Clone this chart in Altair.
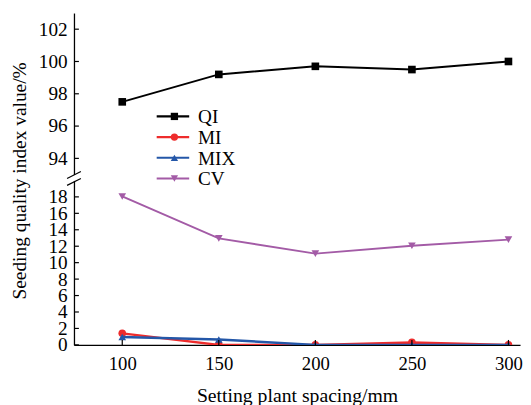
import altair as alt
import pandas as pd

spacing = [100, 150, 200, 250, 300]
qi = [97.5, 99.2, 99.7, 99.5, 100.0]
mi = [1.4, 0.0, 0.0, 0.3, 0.0]
mix = [0.95, 0.65, 0.0, 0.0, 0.0]
cv = [18.05, 12.95, 11.1, 12.05, 12.8]

series = ["QI", "MI", "MIX", "CV"]
colors = ["#000000", "#ee2c2c", "#2457a8", "#a35ba6"]
shapes = ["square", "circle", "triangle-up", "triangle-down"]

upper_ticks = [94, 96, 98, 100, 102]
lower_ticks = [0, 2, 4, 6, 8, 10, 12, 14, 16, 18]
x_ticks = [100, 150, 200, 250, 300]

FONT = "Liberation Serif"
W = 453
H_UP = 164
H_LO = 167

color_scale = alt.Scale(domain=series, range=colors)
shape_scale = alt.Scale(domain=series, range=shapes)

rows = []
for name, vals in zip(series, [qi, mi, mix, cv]):
    for s, v in zip(spacing, vals):
        rows.append({"spacing": s, "value": v, "series": name})
df = pd.DataFrame(rows)

xscale = alt.Scale(domain=[75, 306], nice=False, zero=False)
up_scale = alt.Scale(domain=[93, 103], nice=False, zero=False)
lo_scale = alt.Scale(domain=[0, 20], nice=False, zero=False)

up_axis = alt.Axis(values=upper_ticks, ticks=False, labelPadding=7, grid=False,
                   title="Seeding quality index value/%", titleX=-55, titleY=170,
                   titleAngle=-90, titleBaseline="middle", titleAlign="center",
                   titleFontSize=19.7, labelFontSize=19.5)
lo_axis = alt.Axis(values=lower_ticks, ticks=False, labelPadding=7, grid=False, title=None,
                   labelOverlap=False, labelFontSize=19.5)
x_axis = alt.Axis(values=x_ticks, ticks=False, labelPadding=10, grid=False,
                  title="Setting plant spacing/mm", titlePadding=13, labelFlush=False,
                  labelOverlap=False, titleFontSize=20, labelFontSize=19)


def series_layers(name, scale, axis, xaxis, clip=False, width=2):
    base = alt.Chart(df).transform_filter(alt.datum.series == name)
    enc = dict(
        x=alt.X("spacing:Q", scale=xscale, axis=xaxis),
        y=alt.Y("value:Q", scale=scale, axis=axis),
        color=alt.Color("series:N", scale=color_scale, legend=None),
        shape=alt.Shape("series:N", scale=shape_scale, legend=None),
    )
    line = base.mark_line(strokeWidth=width, clip=clip).encode(
        x=enc["x"], y=enc["y"], color=enc["color"])
    pts = base.mark_point(filled=True, opacity=1, size=60, clip=clip).encode(**enc)
    return [line, pts]


# Upper panel
ytick_up = alt.Chart(pd.DataFrame({"value": upper_ticks})).mark_rule(
    color="black", strokeWidth=1.2).encode(
    y=alt.Y("value:Q", scale=up_scale, axis=up_axis), x=alt.value(0), x2=alt.value(5))

upper_data = alt.layer(*series_layers("QI", up_scale, up_axis, None), ytick_up)

leg_df = pd.DataFrame({"series": series})
leg_y = alt.Y("series:N",
              scale=alt.Scale(type="point", domain=series, range=[105, 168], padding=0),
              axis=None)
leg_line = alt.Chart(leg_df).mark_rule(strokeWidth=2.2).encode(
    y=leg_y, x=alt.value(84), x2=alt.value(117),
    color=alt.Color("series:N", scale=color_scale, legend=None))
leg_pt = alt.Chart(leg_df).mark_point(filled=True, opacity=1, size=55).encode(
    y=leg_y, x=alt.value(102),
    color=alt.Color("series:N", scale=color_scale, legend=None),
    shape=alt.Shape("series:N", scale=shape_scale, legend=None))
leg_txt = alt.Chart(leg_df).mark_text(align="left", baseline="middle", font=FONT,
                                      fontSize=19.5, color="black", dy=1).encode(
    y=leg_y, x=alt.value(126), text="series:N")

upper = alt.layer(upper_data, leg_line, leg_pt, leg_txt).resolve_scale(
    y="independent").properties(width=W, height=H_UP)

# Lower panel
ytick_lo = alt.Chart(pd.DataFrame({"value": lower_ticks})).mark_rule(
    color="black", strokeWidth=1.2).encode(
    y=alt.Y("value:Q", scale=lo_scale, axis=lo_axis), x=alt.value(0), x2=alt.value(5))
xtick_lo = alt.Chart(pd.DataFrame({"spacing": x_ticks})).mark_rule(
    color="black", strokeWidth=1.2).encode(
    x=alt.X("spacing:Q", scale=xscale, axis=x_axis), y=alt.value(H_LO - 5), y2=alt.value(H_LO))

brk_df = pd.DataFrame({"k": [0]})
brk1 = alt.Chart(brk_df).mark_rule(color="black", strokeWidth=1.2).encode(
    x=alt.value(-7), y=alt.value(-2), x2=alt.value(7), y2=alt.value(-9))
brk2 = alt.Chart(brk_df).mark_rule(color="black", strokeWidth=1.2).encode(
    x=alt.value(-7), y=alt.value(5), x2=alt.value(7), y2=alt.value(-2))

lower_layers = []
lower_layers += series_layers("CV", lo_scale, lo_axis, x_axis, width=2)
lower_layers += series_layers("MI", lo_scale, lo_axis, x_axis, clip=True, width=2.5)
lower_layers += series_layers("MIX", lo_scale, lo_axis, x_axis, clip=True, width=2.5)
lower = alt.layer(*lower_layers, ytick_lo, xtick_lo, brk1, brk2).properties(
    width=W, height=H_LO)

chart = alt.vconcat(upper, lower, spacing=6, bounds="flush").properties(
    padding={"left": 2, "top": 2, "right": 0, "bottom": 0}
).configure_view(stroke=None).configure_axis(
    labelFont=FONT, titleFont=FONT, labelFontSize=19, titleFontSize=20,
    labelColor="black", titleColor="black", titleFontWeight="normal",
    domainColor="black", domainWidth=1.3
)

chart.save("out.html", embed_options={"renderer": "svg", "actions": False})
